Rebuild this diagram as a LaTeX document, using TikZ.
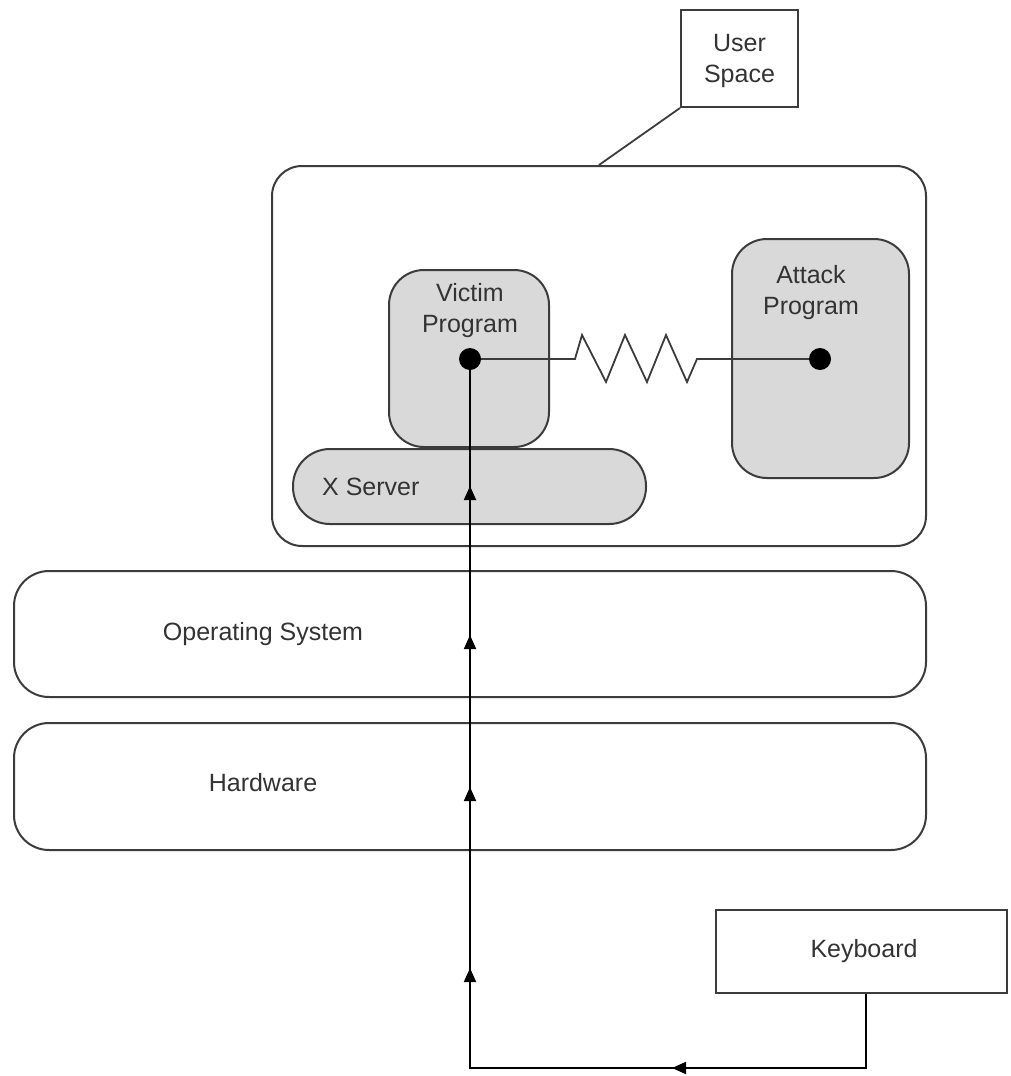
\documentclass[tikz,border=0pt]{standalone}
\usepackage{fontspec}
\setmainfont{Liberation Sans}
\usetikzlibrary{arrows.meta,decorations.markings}
\definecolor{boxc}{HTML}{3C3C3C}
\definecolor{graybox}{HTML}{D9D9D9}
\definecolor{txtc}{HTML}{333333}
\begin{document}
\begin{tikzpicture}[x=1pt,y=-1pt,
  box/.style={draw=boxc,line width=2pt,inner sep=0pt,rounded corners=#1},
  box/.default=30pt,
  lbl/.style={text=txtc,font=\fontsize{25}{31}\selectfont,align=center,inner sep=0pt},
  dot/.style={circle,fill=black,minimum size=22pt,inner sep=0pt},
  flow/.style={draw=black,line width=1.8pt,postaction={decorate},
    decoration={markings,
      mark=at position 268pt with {\arrow{Triangle[width=12pt,length=14pt]}},
      mark=at position 570pt with {\arrow{Triangle[width=12pt,length=14pt]}},
      mark=at position 751pt with {\arrow{Triangle[width=12pt,length=14pt]}},
      mark=at position 903pt with {\arrow{Triangle[width=12pt,length=14pt]}},
      mark=at position 1052pt with {\arrow{Triangle[width=12pt,length=14pt]}}}}]
\useasboundingbox (0,0) rectangle (1010,1076);
\fill[white] (0,0) rectangle (1010,1076);

% user space container and label
\node[box=30pt,minimum width=654pt,minimum height=380pt] (user) at (599,356) {};
\node[draw=boxc,line width=2pt,minimum width=117pt,minimum height=97pt,inner sep=0pt] (ulbl) at (739.5,58.5) {};
\node[lbl] (ulbltxt) at (739.5,61) {User\\Space};
\draw[boxc,line width=1.8pt] (user.north) -- (ulbl.south west);

% programs
\node[box=35pt,fill=graybox,minimum width=160pt,minimum height=177pt] (victim) at (469,358.5) {};
\node[lbl] (victimtxt) at (470,311) {Victim\\Program};
\node[box=35pt,fill=graybox,minimum width=177pt,minimum height=239pt] (attack) at (820.5,358.5) {};
\node[lbl] (attacktxt) at (811,293) {Attack\\Program};
\node[box=37pt,fill=graybox,minimum width=353pt,minimum height=75pt] (xserver) at (469.5,486.5) {};
\node[lbl,anchor=west] (xservertxt) at (322,487) {X Server};

% layers
\node[box=35pt,minimum width=912pt,minimum height=126pt] (os) at (470,634) {};
\node[lbl] (ostxt) at (263,634) {Operating System};
\node[box=35pt,minimum width=912pt,minimum height=127pt] (hw) at (470,786.5) {};
\node[lbl] (hwtxt) at (263,783) {Hardware};

% keyboard
\node[draw=boxc,line width=2pt,minimum width=291pt,minimum height=83pt,inner sep=0pt] (kb) at (861.5,951.5) {};
\node[lbl] (kbtxt) at (864,951) {Keyboard};

% dots and spring
\node[dot] (vd) at (470,359) {};
\node[dot] (ad) at (820,359) {};
\draw[boxc,line width=1.8pt,line join=miter] (vd) -- (575,359) -- (582,335) -- (606,382) -- (625,335) -- (647,382) -- (666,335) -- (687,382) -- (697,359) -- (ad);

% input flow
\coordinate (kbout) at ([xshift=4.5pt]kb.south);
\coordinate (c1) at (866,1068);
\coordinate (c2) at (470,1068);
\draw[flow] (kbout) -- (c1) -- (c2) -- (vd);
\end{tikzpicture}
\end{document}
